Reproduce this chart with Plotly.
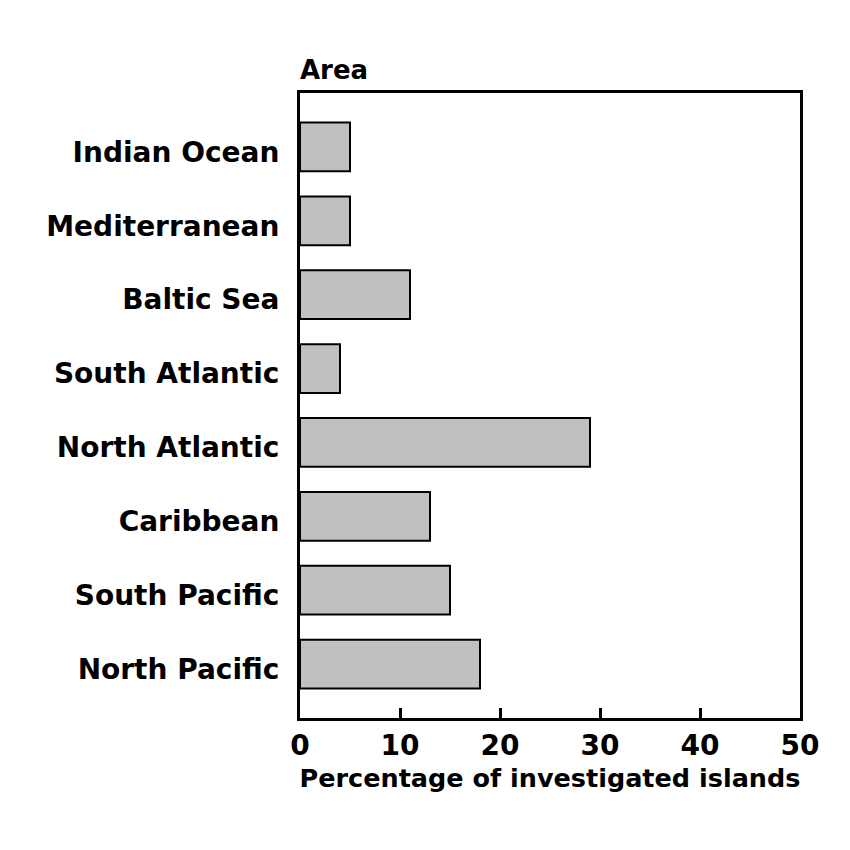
import plotly.graph_objects as go

areas = ["North Pacific", "South Pacific", "Caribbean", "North Atlantic",
         "South Atlantic", "Baltic Sea", "Mediterranean", "Indian Ocean"]
percent = [18, 15, 13, 29, 4, 11, 5, 5]
x_ticks = [0, 10, 20, 30, 40, 50]

font_family = "DejaVu Sans"

fig = go.Figure(go.Bar(
    x=percent, y=areas, orientation="h",
    marker=dict(color="#c0c0c0", line=dict(color="black", width=2)),
    width=0.66,
))

fig.update_layout(
    width=850, height=850,
    margin=dict(l=292, r=58, t=85, b=140),
    plot_bgcolor="white", paper_bgcolor="white",
    showlegend=False,
    font=dict(family=font_family, color="black", size=28),
    annotations=[dict(text="<b>Area</b>", x=0, y=1, xref="paper", yref="paper",
                      xanchor="left", yanchor="bottom", showarrow=False,
                      font=dict(size=26, family=font_family), yshift=6, xshift=-2)],
)
fig.update_xaxes(
    range=[0, 50], tickvals=x_ticks, ticktext=[f"<b>{v}</b>" for v in x_ticks],
    showline=True, linecolor="black", linewidth=3, mirror=True,
    ticks="inside", ticklen=10, tickwidth=3, tickcolor="black",
    showgrid=False, zeroline=False,
    title=dict(text="<b>Percentage of investigated islands</b>", standoff=9,
               font=dict(size=25.5)),
    tickfont=dict(size=28),
)
fig.update_yaxes(
    categoryorder="array", categoryarray=areas,
    tickvals=areas, ticktext=[f"<b>{a}</b>" for a in areas],
    range=[-0.73, 7.73],
    showline=True, linecolor="black", linewidth=3, mirror=True,
    ticks="", showgrid=False, zeroline=False,
    ticklabelstandoff=12, ticklabelshift=5,
    tickfont=dict(size=28),
)

fig.write_html("out.html")
